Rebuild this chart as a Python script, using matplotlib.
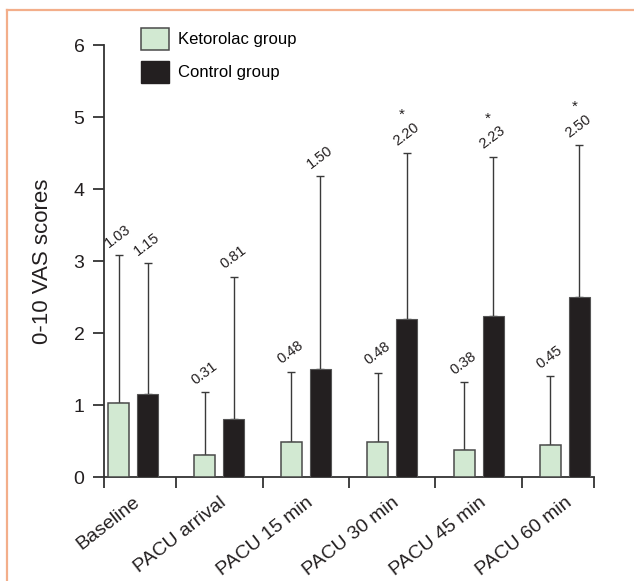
import matplotlib
matplotlib.use("Agg")
import matplotlib.pyplot as plt
from matplotlib.lines import Line2D
from matplotlib.patches import Patch
import numpy as np

plt.rcParams['font.family'] = ['Liberation Sans', 'DejaVu Sans']

categories = ['Baseline', 'PACU arrival', 'PACU 15 min', 'PACU 30 min', 'PACU 45 min', 'PACU 60 min']
keto_mean = [1.03, 0.31, 0.48, 0.48, 0.38, 0.45]
keto_sd = [2.05, 0.87, 0.98, 0.97, 0.94, 0.95]
ctrl_mean = [1.15, 0.81, 1.50, 2.20, 2.23, 2.50]
ctrl_sd = [1.82, 1.97, 2.68, 2.30, 2.22, 2.11]
significant = [False, False, False, True, True, True]
yticks = [0, 1, 2, 3, 4, 5, 6]

fig = plt.figure(figsize=(6.34, 5.81), dpi=100)
ax = fig.add_axes([104 / 634, 104 / 581, 490 / 634, 432 / 581])

x = np.arange(len(categories))
w = 0.244
off = 0.168
green = '#d2e9d2'
dark = '#231f20'

ax.bar(x - off, keto_mean, width=w, color=green, edgecolor='#4a4a4a', linewidth=1.1, zorder=3)
ax.bar(x + off, ctrl_mean, width=w, color=dark, edgecolor='#555555', linewidth=0.8, zorder=3)

ax.errorbar(x - off, keto_mean, yerr=[np.zeros(len(x)), keto_sd], fmt='none',
            ecolor='#3a3a3a', elinewidth=1.0, capsize=2.6, capthick=1.0, zorder=2)
ax.errorbar(x + off, ctrl_mean, yerr=[np.zeros(len(x)), ctrl_sd], fmt='none',
            ecolor='#3a3a3a', elinewidth=1.0, capsize=2.6, capthick=1.0, zorder=2)

for xi, m, s in zip(x - off, keto_mean, keto_sd):
    ax.annotate(f'{m:.2f}', (xi, m + s), xytext=(-8, 5), textcoords='offset pixels',
                rotation=37, ha='left', va='bottom', rotation_mode='anchor',
                fontsize=10.5, color='#231f20')
for xi, m, s, sig in zip(x + off, ctrl_mean, ctrl_sd, significant):
    ax.annotate(f'{m:.2f}', (xi, m + s), xytext=(-8, 5), textcoords='offset pixels',
                rotation=37, ha='left', va='bottom', rotation_mode='anchor',
                fontsize=10.5, color='#231f20')
    if sig:
        ax.annotate('*', (xi, m + s), xytext=(-5, 31), textcoords='offset pixels',
                    ha='center', va='bottom', fontsize=11, color='#231f20')

left = -0.336
right = 5.336
ax.set_xlim(left, right)
ax.set_ylim(0, 6)

# major ticks at group boundaries (no labels), minor ticks at group centres (labels)
ax.set_xticks([left, 0.5, 1.5, 2.5, 3.5, 4.5, right])
ax.set_xticklabels([])
ax.set_xticks(x, minor=True)
ax.set_xticklabels(categories, minor=True, rotation=38, ha='right',
                   rotation_mode='anchor', fontsize=14, color='#231f20')
ax.tick_params(axis='x', which='minor', length=0, pad=12)
ax.tick_params(axis='x', which='major', length=8, width=1.3, color='#333333', direction='out')

ax.set_yticks(yticks)
ax.set_yticklabels([str(t) for t in yticks], fontsize=14, color='#231f20')
ax.tick_params(axis='y', length=8, width=1.3, color='#333333', pad=6)

for sp in ['top', 'right']:
    ax.spines[sp].set_visible(False)
for sp in ['left', 'bottom']:
    ax.spines[sp].set_linewidth(1.3)
    ax.spines[sp].set_color('#333333')

ax.set_ylabel('0-10 VAS scores', fontsize=16, color='#231f20')
ax.yaxis.set_label_coords(-0.105, 0.5)

handles = [Patch(facecolor=green, edgecolor='#4a4a4a', linewidth=1.1, label='Ketorolac group'),
           Patch(facecolor=dark, edgecolor=dark, label='Control group')]
fig.legend(handles=handles, loc='upper left', bbox_to_anchor=(141 / 634, 1 - 28 / 581),
           frameon=False, fontsize=12, handlelength=1.65, handleheight=1.65,
           handletextpad=0.6, labelspacing=0.65, borderpad=0, borderaxespad=0)

# orange frame
border = '#f3ae8a'
yb = 1 - 9.5 / 581
xb = 7.3 / 634
fig.add_artist(Line2D([xb, 1], [yb, yb], transform=fig.transFigure, color=border, lw=1.6))
fig.add_artist(Line2D([xb, xb], [0, yb], transform=fig.transFigure, color=border, lw=1.6))

fig.savefig('out.png', dpi=100)
